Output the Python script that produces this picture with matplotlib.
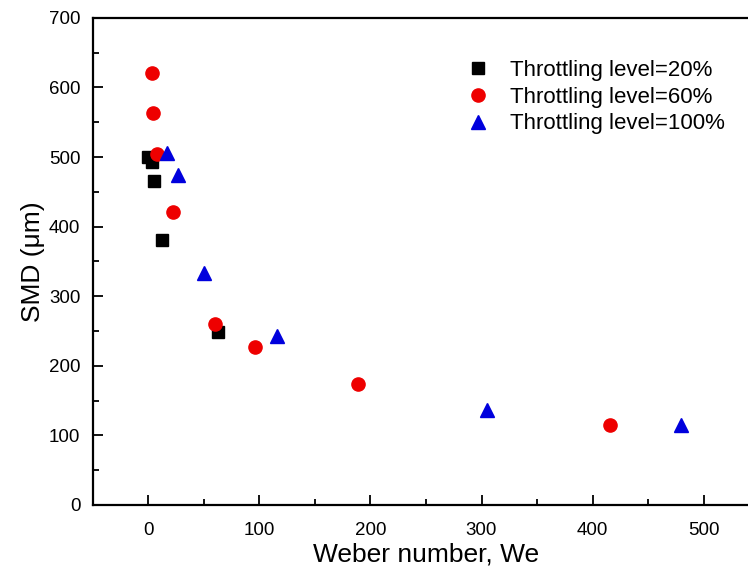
import matplotlib
matplotlib.use('Agg')
import matplotlib.pyplot as plt
from matplotlib.ticker import MultipleLocator

plt.rcParams['font.family'] = ['Liberation Sans', 'DejaVu Sans']
plt.rcParams['font.size'] = 13

# data
we_20 = [0, 3, 5, 12, 63]
smd_20 = [500, 493, 465, 381, 248]

we_60 = [3, 4.5, 8, 22.5, 60, 96, 189, 416]
smd_60 = [621, 563, 504, 421, 260, 227, 174, 115]

we_100 = [17, 27, 50, 116, 305, 480]
smd_100 = [506, 474, 333, 243, 136, 115]

labels = ['Throttling level=20%', 'Throttling level=60%', 'Throttling level=100%']

fig = plt.figure(figsize=(7.48, 5.77), dpi=100)
ax = fig.add_axes([0.124, 0.125, 0.891, 0.844])

ax.plot(we_20, smd_20, ls='none', marker='s', ms=8.5, color='black', label=labels[0])
ax.plot(we_60, smd_60, ls='none', marker='o', ms=9.5, color='#ee0000', mec='#ee0000', label=labels[1])
ax.plot(we_100, smd_100, ls='none', marker='^', ms=10, color='#0000dd', label=labels[2])

ax.set_xlim(-50, 550)
ax.set_ylim(0, 700)
ax.xaxis.set_major_locator(MultipleLocator(100))
ax.xaxis.set_minor_locator(MultipleLocator(50))
ax.yaxis.set_major_locator(MultipleLocator(100))
ax.yaxis.set_minor_locator(MultipleLocator(50))
ax.tick_params(which='both', direction='in', width=1.3, labelsize=13.5)
ax.tick_params(which='major', length=7)
ax.tick_params(which='minor', length=4)
ax.tick_params(axis='x', pad=12)
ax.tick_params(axis='y', pad=9)
ax.tick_params(right=False, top=False, which='both')
for s in ax.spines.values():
    s.set_linewidth(1.6)
ax.spines['right'].set_visible(False)

ax.set_xlabel('Weber number, We', fontsize=19, labelpad=3)
ax.set_ylabel('SMD (μm)', fontsize=19, labelpad=3)

ax.legend(loc='upper left', bbox_to_anchor=(0.561, 0.913), frameon=False, fontsize=16,
          handlelength=1.0, handletextpad=0.95, labelspacing=0.25, borderpad=0,
          borderaxespad=0)

fig.savefig('out.png', dpi=100)
